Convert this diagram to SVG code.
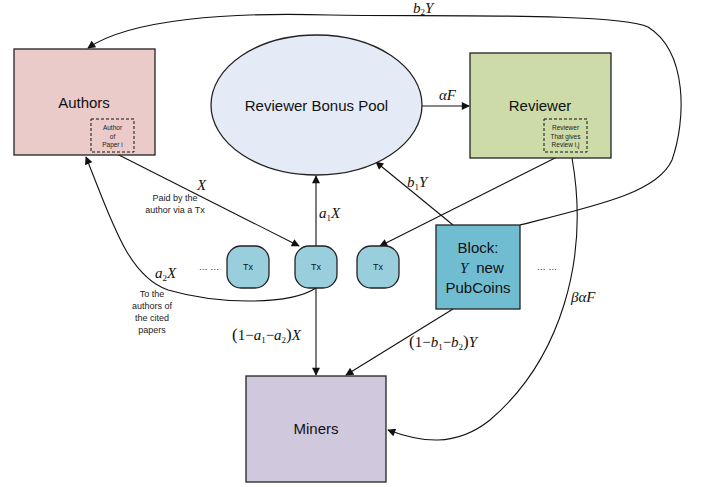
<svg xmlns="http://www.w3.org/2000/svg" width="702" height="487" viewBox="0 0 702 487">
<style>
.box{stroke:#222;stroke-width:1.3}
.dash{fill:none;stroke:#111;stroke-width:1;stroke-dasharray:3,2}
.lbl{font-family:"Liberation Sans",Arial,sans-serif;font-size:15px;fill:#111;text-anchor:middle}
.sm{font-family:"Liberation Sans",Arial,sans-serif;font-size:6.5px;fill:#222;text-anchor:middle}
.note{font-family:"Liberation Sans",Arial,sans-serif;font-size:9px;fill:#222;text-anchor:middle}
.tx{font-family:"Liberation Sans",Arial,sans-serif;font-size:9px;fill:#111;text-anchor:middle}
.m{font-family:"Liberation Serif","Times New Roman",serif;font-size:15px;font-style:italic;fill:#111}
.sub{font-size:9px;font-style:normal}
.up{font-style:normal}
.c{fill:none;stroke:#111;stroke-width:1.1}
</style>
<defs>
<marker id="ah" viewBox="0 0 10 10" refX="9" refY="5" markerWidth="9" markerHeight="8" markerUnits="userSpaceOnUse" orient="auto">
<path d="M0,0 L10,5 L0,10 z" fill="#111"/>
</marker>
</defs>

<g id="connectors">
<path class="c" d="M520,225 C600,205 658,192 672,160 C686,120 688,52 648,27 C618,12 420,17 330,15 C230,12 130,19 88,48" marker-end="url(#ah)"/>
<line class="c" x1="422" y1="106" x2="469" y2="106" marker-end="url(#ah)"/>
<line class="c" x1="316" y1="246" x2="316" y2="176" marker-end="url(#ah)"/>
<line class="c" x1="316" y1="288" x2="316" y2="375" marker-end="url(#ah)"/>
<line class="c" x1="453" y1="225" x2="376" y2="162" marker-end="url(#ah)"/>
<line class="c" x1="453" y1="309" x2="346" y2="375" marker-end="url(#ah)"/>
<line class="c" x1="113" y1="152" x2="299" y2="246" marker-end="url(#ah)"/>
<line class="c" x1="567" y1="152" x2="380" y2="246" marker-end="url(#ah)"/>
<path class="c" d="M572,158 C590,260 560,360 490,420 C455,448 420,442 388,430" marker-end="url(#ah)"/>
<path class="c" d="M316,288 C290,305 220,305 168,290 C128,276 112,222 86,157" marker-end="url(#ah)"/>
</g>

<g id="authors">
<rect class="box" x="14" y="49" width="141" height="106" fill="#ebcbca"/>
<text class="lbl" x="84" y="108">Authors</text>
<rect class="dash" x="91" y="119" width="43" height="33"/>
<text class="sm" x="112.5" y="129.5">Author</text>
<text class="sm" x="112.5" y="138.5">of</text>
<text class="sm" x="112.5" y="147">Paper i</text>
</g>

<g id="pool">
<ellipse class="box" cx="316.5" cy="105" rx="105.5" ry="70" fill="#e5ebf6"/>
<text class="lbl" x="316.5" y="111">Reviewer Bonus Pool</text>
</g>

<g id="reviewer">
<rect class="box" x="470" y="53" width="141" height="105" fill="#cddba9"/>
<text class="lbl" x="540" y="111">Reviewer</text>
<rect class="dash" x="544" y="119" width="43" height="33"/>
<text class="sm" x="565.5" y="129.5">Reviewer</text>
<text class="sm" x="565.5" y="138.5">That gives</text>
<text class="sm" x="565.5" y="147">Review i,j</text>
</g>

<g id="tx1">
<rect class="box" x="227" y="246" width="42" height="42" rx="14" fill="#99cfdc"/>
<text class="tx" x="248" y="270">Tx</text>
</g>
<g id="tx2">
<rect class="box" x="295" y="246" width="42" height="42" rx="14" fill="#99cfdc"/>
<text class="tx" x="316" y="270">Tx</text>
</g>
<g id="tx3">
<rect class="box" x="357" y="246" width="42" height="42" rx="14" fill="#99cfdc"/>
<text class="tx" x="378" y="270">Tx</text>
</g>

<g id="block">
<rect class="box" x="436" y="225" width="84" height="84" fill="#70bdd1"/>
<text class="lbl" x="478" y="253">Block:</text>
<text class="m" x="460" y="273">Y</text>
<text class="lbl" x="490" y="273">new</text>
<text class="lbl" x="478" y="293">PubCoins</text>
</g>

<g id="miners">
<rect class="box" x="246" y="376" width="140" height="106" fill="#d0c9de"/>
<text class="lbl" x="316" y="434">Miners</text>
</g>

<g id="labels">
<text class="tx" x="209" y="270">… …</text>
<text class="tx" x="547" y="270">… …</text>
<text class="m" x="197" y="190">X</text>
<text class="note" x="175" y="201">Paid by the</text>
<text class="note" x="175" y="213">author via a Tx</text>
<text class="m" x="319" y="218">a<tspan class="sub" dy="3">1</tspan><tspan dy="-3">X</tspan></text>
<text class="m" x="155" y="278">a<tspan class="sub" dy="3">2</tspan><tspan dy="-3">X</tspan></text>
<text class="note" x="152" y="297">To the</text>
<text class="note" x="152" y="309">authors of</text>
<text class="note" x="152" y="321">the cited</text>
<text class="note" x="152" y="333">papers</text>
<text class="m" x="232" y="340"><tspan class="up" font-size="17">(</tspan><tspan class="up">1−</tspan>a<tspan class="sub" dy="3">1</tspan><tspan class="up" dy="-3">−</tspan>a<tspan class="sub" dy="3">2</tspan><tspan class="up" font-size="17" dy="-3">)</tspan>X</text>
<text class="m" x="439" y="100">αF</text>
<text class="m" x="413" y="13" font-size="14">b<tspan class="sub" dy="2">2</tspan><tspan dy="-2">Y</tspan></text>
<text class="m" x="407" y="187">b<tspan class="sub" dy="3">1</tspan><tspan dy="-3">Y</tspan></text>
<text class="m" x="409" y="347"><tspan class="up" font-size="17">(</tspan><tspan class="up">1−</tspan>b<tspan class="sub" dy="3">1</tspan><tspan class="up" dy="-3">−</tspan>b<tspan class="sub" dy="3">2</tspan><tspan class="up" font-size="17" dy="-3">)</tspan>Y</text>
<text class="m" x="571" y="302">βαF</text>
</g>
</svg>
